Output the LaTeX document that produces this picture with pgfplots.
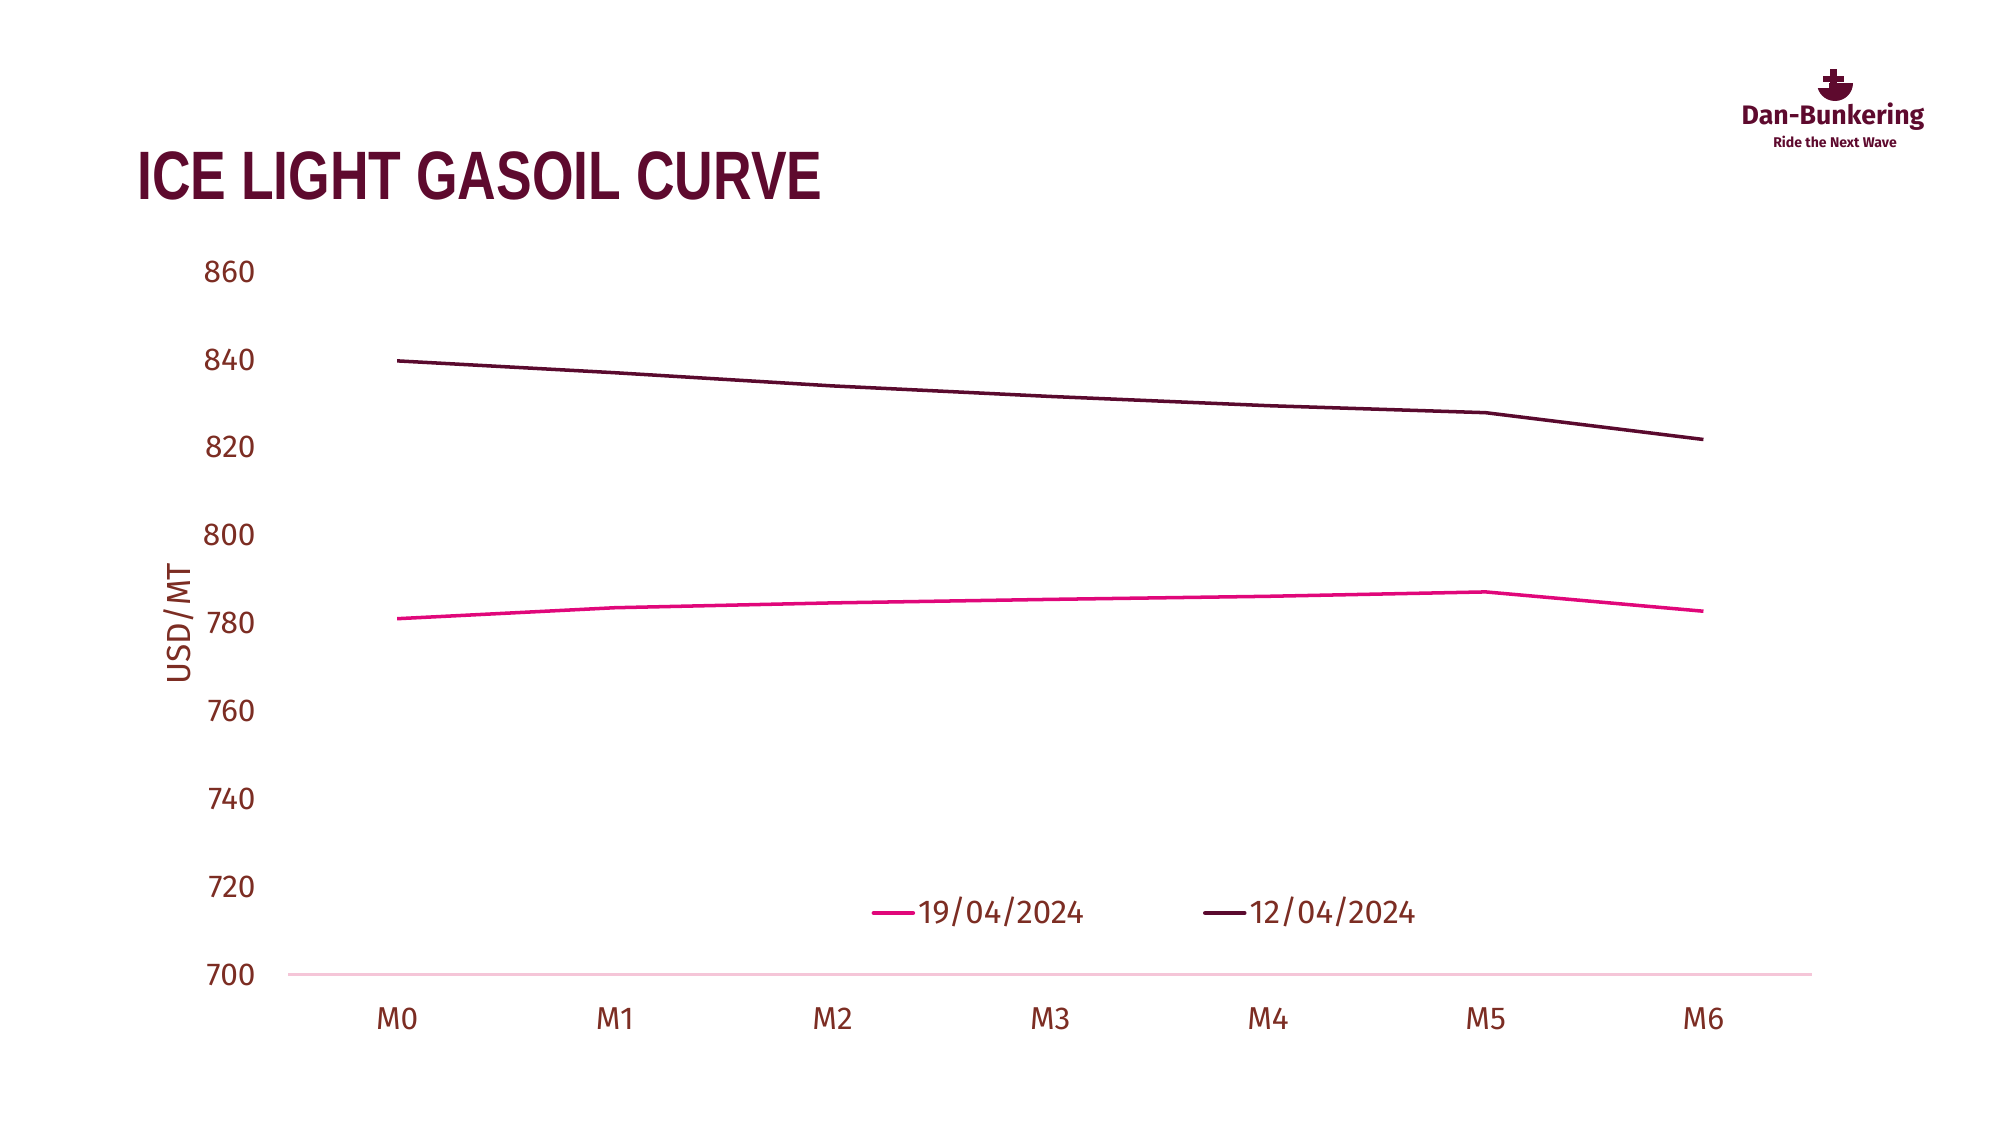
\documentclass[border=0pt]{standalone}
\usepackage{pgfplots}
\pgfplotsset{compat=1.18}
\usepackage{fontspec}
\setmainfont{Fira Sans}
\newfontfamily\titlefont{Liberation Sans}[FakeStretch=0.78]
\definecolor{darkline}{HTML}{5A0A2E}
\definecolor{pinkline}{HTML}{E0077A}
\definecolor{ticktext}{HTML}{7C2D23}
\definecolor{axisline}{HTML}{F5C6D8}
\definecolor{titlecol}{HTML}{5E0A2E}
\begin{document}
\begin{tikzpicture}[x=1mm,y=1mm]
\path[use as bounding box] (0,0) rectangle (200,112.5);
\begin{axis}[
  at={(28.83mm,15.05mm)}, anchor=south west, scale only axis,
  width=152.4mm, height=70.28mm,
  xmin=-0.5, xmax=6.5, ymin=700, ymax=860,
  xtick={0,1,2,3,4,5,6}, xticklabels={M0,M1,M2,M3,M4,M5,M6},
  ytick={700,720,...,860},
  axis x line*=bottom, axis y line*=left,
  x axis line style={draw=axisline, line width=0.6pt, -},
  y axis line style={draw=none, -},
  major tick length=0pt,
  tick label style={font=\fontsize{9}{10}\selectfont, text=ticktext},
  yticklabel style={anchor=east, inner sep=0pt, xshift=-3.2mm},
  xticklabel style={anchor=north, inner sep=0pt, yshift=-3.2mm},
  /pgf/number format/assume math mode=true,
  legend columns=2,
  legend cell align=left,
  legend style={at={(rel axis cs:0.3823,0.0875)}, anchor=west, draw=none, fill=none,
    inner sep=0pt, font=\fontsize{9.4}{11}\selectfont, text=ticktext,
    nodes={inner sep=0.3mm},
    /tikz/every even column/.append style={column sep=11.6mm}},
  legend image code/.code={\draw[#1, line width=1.3pt, line cap=round] (0mm,0mm) -- (3.9mm,0mm);},
]
\addplot[pinkline, line width=1pt] coordinates {(0,781.0) (1,783.5) (2,784.6) (3,785.4) (4,786.1) (5,787.1) (6,782.7)};
\addlegendentry{19/04/2024}
\addplot[darkline, line width=1pt] coordinates {(0,839.7) (1,837.0) (2,834.0) (3,831.6) (4,829.5) (5,827.9) (6,821.8)};
\addlegendentry{12/04/2024}
\end{axis}
\node[anchor=base west, inner sep=0pt, text=titlecol, font=\titlefont\bfseries\fontsize{19.5}{22}\selectfont] at (13.65,92.5) {ICE LIGHT GASOIL CURVE};
\node[rotate=90, inner sep=0pt, text=ticktext, font=\fontsize{9.5}{11}\selectfont] at (17.86,50.1) {USD/MT};
% logo
\fill[titlecol] (182.95,105.6) rectangle (183.65,104.0);
\fill[titlecol] (182.3,104.95) rectangle (184.4,104.35);
\fill[titlecol] (181.7,104.2) arc[start angle=180, end angle=360, x radius=1.8, y radius=1.8] -- cycle;
\fill[white] (181.6,104.25) rectangle (182.9,103.7);
\node[anchor=base, inner sep=0pt, text=titlecol, font=\bfseries\fontsize{7.6}{9}\selectfont] at (183.3,100.1) {Dan-Bunkering};
\node[anchor=base, inner sep=0pt, text=titlecol, font=\bfseries\fontsize{4}{5}\selectfont] at (183.5,97.8) {Ride the Next Wave};
\end{tikzpicture}
\end{document}
